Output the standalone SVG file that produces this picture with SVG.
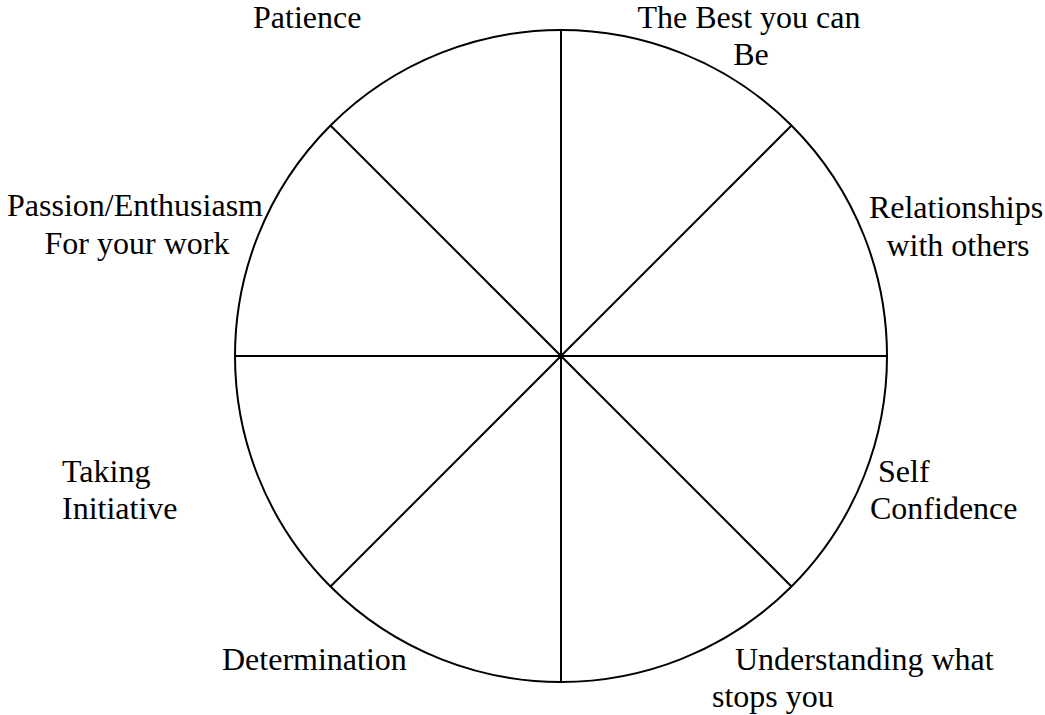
<svg xmlns="http://www.w3.org/2000/svg" width="1045" height="715" viewBox="0 0 1045 715">
<style>
.t{font-family:"Liberation Serif","Times New Roman",serif;font-size:32px;fill:#000}
.c{text-anchor:middle}
.s{stroke:#000;stroke-width:2;fill:none}
</style>
<rect width="1045" height="715" fill="#fff"/>
<g id="wheel">
<circle class="s" cx="561" cy="356" r="326"/>
</g>
<g id="connectors">
<line class="s" x1="561" y1="30" x2="561" y2="682"/>
<line class="s" x1="235" y1="356" x2="887" y2="356"/>
<line class="s" x1="330.5" y1="125.5" x2="791.5" y2="586.5"/>
<line class="s" x1="791.5" y1="125.5" x2="330.5" y2="586.5"/>
</g>
<g id="patience"><text class="t" x="253" y="28">Patience</text></g>
<g id="best"><text class="t c" x="749" y="28">The Best you can</text><text class="t c" x="751" y="65">Be</text></g>
<g id="passion"><text class="t c" x="135" y="216">Passion/Enthusiasm</text><text class="t c" x="137" y="254">For your work</text></g>
<g id="relationships"><text class="t c" x="956" y="218">Relationships</text><text class="t c" x="958" y="256">with others</text></g>
<g id="taking"><text class="t" x="62" y="482">Taking</text><text class="t" x="62" y="519">Initiative</text></g>
<g id="self"><text class="t" x="878" y="482">Self</text><text class="t" x="870" y="519">Confidence</text></g>
<g id="determination"><text class="t" x="222" y="670">Determination</text></g>
<g id="understanding"><text class="t" x="735" y="670">Understanding what</text><text class="t" x="712" y="707">stops you</text></g>
</svg>
